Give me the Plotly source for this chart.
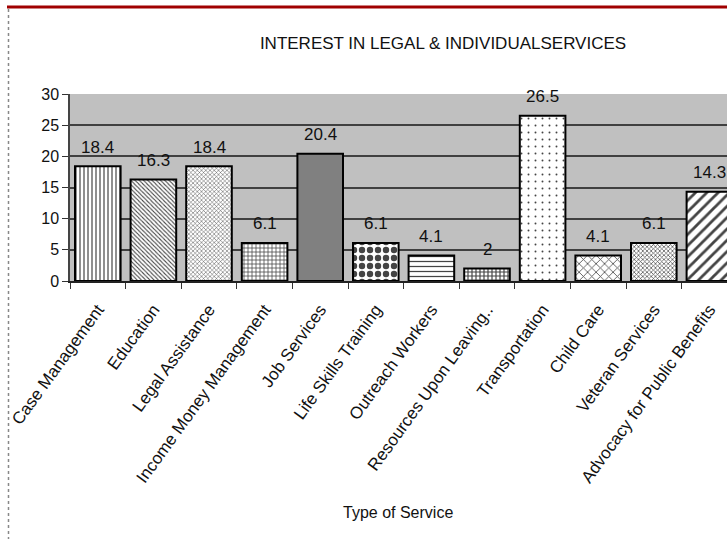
import plotly.graph_objects as go

categories = ["Case Management", "Education", "Legal Assistance", "Income Money Management",
              "Job Services", "Life Skills Training", "Outreach Workers", "Resources Upon Leaving..",
              "Transportation", "Child Care", "Veteran Services", "Advocacy for Public Benefits"]
values = [18.4, 16.3, 18.4, 6.1, 20.4, 6.1, 4.1, 2, 26.5, 4.1, 6.1, 14.3]
y_ticks = [0, 5, 10, 15, 20, 25, 30]

shapes_pat = ["|", "\\", "x", "+", "", ".", "-", "+", ".", "x", "x", "/"]
pat_size = [4, 3, 3, 4, 8, 8, 5, 4, 7, 6, 3, 8]
pat_sol = [0.3, 0.35, 0.3, 0.35, 0.3, 0.5, 0.25, 0.5, 0.06, 0.25, 0.4, 0.35]
bg_colors = ["white"] * 12
bg_colors[4] = "#808080"

W, H = 727, 539
L, T, B = 70, 94, 281
pw = W - L
ph = B - T

def px_x(p):
    return (p - L) / pw

def px_y(p):
    return (B - p) / ph

step = 55.6
xmax = -0.5 + pw / step
FONT = "Liberation Sans, Arial"

fig = go.Figure()
fig.add_trace(go.Bar(
    x=categories, y=values,
    marker=dict(color=bg_colors,
                line=dict(color="black", width=2),
                pattern=dict(shape=shapes_pat, fgcolor="black", fgopacity=1,
                             size=pat_size, solidity=pat_sol, fillmode="overlay")),
    width=0.82,
    showlegend=False,
))

for c, v in zip(categories, values):
    fig.add_annotation(x=c, y=v, text=str(v), showarrow=False, yanchor="middle", yshift=19,
                       font=dict(family=FONT, size=17, color="#111"))

fig.add_annotation(xref="paper", yref="paper", x=px_x(398), y=px_y(512), text="Type of Service",
                   showarrow=False, yanchor="middle", xanchor="center",
                   font=dict(family=FONT, size=16, color="#111"))

fig.add_shape(type="line", xref="paper", yref="paper", x0=px_x(7), x1=px_x(730), y0=px_y(7), y1=px_y(7),
              line=dict(color="#a00000", width=3))
fig.add_shape(type="line", xref="paper", yref="paper", x0=px_x(8.5), x1=px_x(8.5), y0=px_y(9), y1=px_y(545),
              line=dict(color="#888", width=1.5, dash="dot"))

fig.update_layout(
    width=W, height=H,
    margin=dict(l=L, r=0, t=T, b=H - B),
    paper_bgcolor="white", plot_bgcolor="#c0c0c0",
    title=dict(text="INTEREST IN LEGAL & INDIVIDUALSERVICES", x=443 / W, y=1 - 43 / H,
               xanchor="center", yanchor="middle",
               font=dict(family=FONT, size=17, color="#111")),
    font=dict(family=FONT, color="#111"),
    xaxis=dict(range=[-0.5, xmax], tickangle=-54, tickson="boundaries", ticks="outside", ticklen=6,
               tickcolor="#333", showline=True, linecolor="#222", linewidth=2, showgrid=False,
               ticklabelstandoff=10,
               tickfont=dict(size=17), fixedrange=True),
    yaxis=dict(range=[0, 30], tickvals=y_ticks, ticks="outside", ticklen=6, tickcolor="#333",
               showline=True, linecolor="#444", linewidth=1.5, gridcolor="#404040", gridwidth=1.5,
               tickfont=dict(size=16), zeroline=False),
)
fig.write_html("out.html")
